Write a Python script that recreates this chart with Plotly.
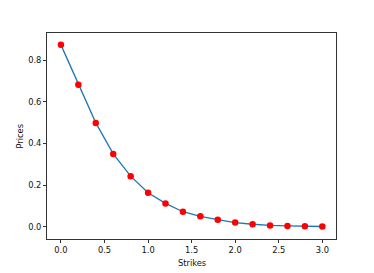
import plotly.graph_objects as go

strikes = [0.0, 0.2, 0.4, 0.6, 0.8, 1.0, 1.2, 1.4, 1.6, 1.8, 2.0, 2.2, 2.4, 2.6, 2.8, 3.0]
prices = [0.874, 0.682, 0.499, 0.350, 0.243, 0.163, 0.112, 0.072, 0.050, 0.034, 0.020, 0.012, 0.006, 0.004, 0.002, 0.001]
x_ticks = [0.0, 0.5, 1.0, 1.5, 2.0, 2.5, 3.0]
y_ticks = [0.0, 0.2, 0.4, 0.6, 0.8]

fig = go.Figure()
fig.add_trace(go.Scatter(x=strikes, y=prices, mode="lines",
                         line=dict(color="#1f77b4", width=1.3), showlegend=False))
fig.add_trace(go.Scatter(x=strikes, y=prices, mode="markers",
                         marker=dict(color="red", size=6.5, line=dict(width=0)), showlegend=False))

font = dict(family="DejaVu Sans", size=8.3, color="#111")
fig.update_layout(
    width=374, height=273,
    margin=dict(l=47, r=38, t=33, b=34, autoexpand=False),
    paper_bgcolor="white", plot_bgcolor="white",
    font=font,
    xaxis=dict(range=[-0.16, 3.157], tickvals=x_ticks, ticktext=[f"{v:.1f}" for v in x_ticks],
               showgrid=False, zeroline=False, showline=True, mirror=True, automargin=False,
               linecolor="#333", linewidth=1, ticks="outside", ticklen=3, tickcolor="#333"),
    yaxis=dict(range=[-0.059, 0.931], tickvals=y_ticks, ticktext=[f"{v:.1f}" for v in y_ticks],
               showgrid=False, zeroline=False, showline=True, mirror=True, automargin=False,
               linecolor="#333", linewidth=1, ticks="outside", ticklen=3, tickcolor="#333"),
    annotations=[
        dict(text="Strikes", xref="paper", yref="paper", x=0.5, y=-0.115, showarrow=False,
             xanchor="center", yanchor="middle", font=font),
        dict(text="Prices", xref="paper", yref="paper", x=-0.095, y=0.5, showarrow=False,
             xanchor="center", yanchor="middle", textangle=-90, font=font),
    ],
)
fig.write_html("out.html", config={"displayModeBar": False},
               post_script="document.body.style.margin='0';document.body.style.overflow='hidden';")
